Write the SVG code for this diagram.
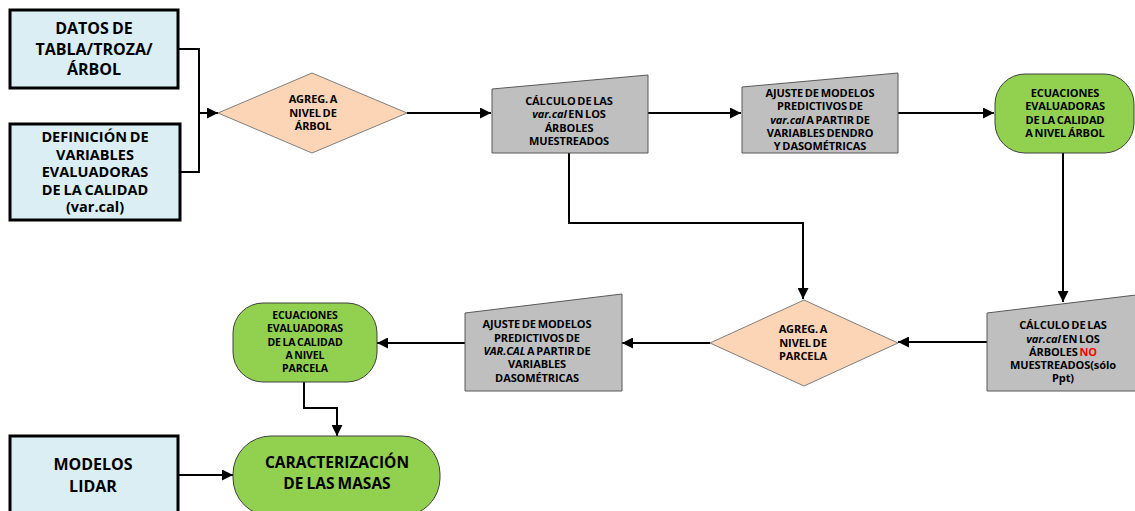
<svg xmlns="http://www.w3.org/2000/svg" width="1135" height="511" viewBox="0 0 1135 511">
<defs>
<marker id="ah" viewBox="0 0 10 10" refX="10" refY="5" markerWidth="11" markerHeight="11" markerUnits="userSpaceOnUse" orient="auto">
<path d="M0,0 L10,5 L0,10 z" fill="#000"/>
</marker>
<style>
.box{fill:#DBEEF4;stroke:#000;stroke-width:3}
.dia{fill:#FBD5B5;stroke:#7f7f7f;stroke-width:1}
.trap{fill:#BFBFBF;stroke:#595959;stroke-width:1}
.term{fill:#92D050;stroke:#404040;stroke-width:1}
.ln{fill:none;stroke:#000;stroke-width:2}
text{font-family:"Open Sans","Liberation Sans",sans-serif;font-weight:700;fill:#000;text-anchor:middle}
.big{font-size:16px;word-spacing:-1px}
.mid{font-size:14.5px;word-spacing:-1px}
.sm{font-size:11px;letter-spacing:-0.1px;word-spacing:-1px}
.xs{font-size:10.5px;letter-spacing:-0.1px;word-spacing:-1px}
.it{font-style:italic}
</style>
</defs>
<rect width="1135" height="511" fill="#fff"/>

<g id="connectors">
<polyline class="ln" points="178,49 199,49 199,113"/>
<polyline class="ln" points="180,172 199,172 199,113"/>
<line class="ln" x1="199" y1="113" x2="218" y2="113" marker-end="url(#ah)"/>
<line class="ln" x1="407" y1="113" x2="491" y2="113" marker-end="url(#ah)"/>
<line class="ln" x1="648" y1="113" x2="741" y2="113" marker-end="url(#ah)"/>
<line class="ln" x1="898" y1="113" x2="994" y2="113" marker-end="url(#ah)"/>
<line class="ln" x1="1063" y1="153" x2="1063" y2="302" marker-end="url(#ah)"/>
<polyline class="ln" points="569,153 569,223 803,223 803,299" marker-end="url(#ah)"/>
<line class="ln" x1="987" y1="342" x2="898" y2="342" marker-end="url(#ah)"/>
<line class="ln" x1="710" y1="343" x2="622" y2="343" marker-end="url(#ah)"/>
<line class="ln" x1="465" y1="343" x2="377" y2="343" marker-end="url(#ah)"/>
<polyline class="ln" points="304,382 304,408 337,408 337,436" marker-end="url(#ah)"/>
<line class="ln" x1="178" y1="475" x2="233" y2="475" marker-end="url(#ah)"/>
</g>

<g id="datos">
<rect class="box" x="10" y="10" width="168" height="78"/>
<text class="big" x="94" y="34">DATOS DE</text>
<text class="big" x="94" y="55">TABLA/TROZA/</text>
<text class="big" x="94" y="75">ÁRBOL</text>
</g>

<g id="definicion">
<rect class="box" x="10" y="124" width="170" height="96"/>
<text class="mid" x="95" y="142">DEFINICIÓN DE</text>
<text class="mid" x="95" y="159.5">VARIABLES</text>
<text class="mid" x="95" y="177">EVALUADORAS</text>
<text class="mid" x="95" y="194.5">DE LA CALIDAD</text>
<text class="mid" x="95" y="212">(var.cal)</text>
</g>

<g id="agreg-arbol">
<polygon class="dia" points="218,113 312,73 407,113 312,153"/>
<text class="sm" x="313" y="103">AGREG. A</text>
<text class="sm" x="313" y="117">NIVEL DE</text>
<text class="sm" x="313" y="130">ÁRBOL</text>
</g>

<g id="calculo-muestreados">
<polygon class="trap" points="492,89 648,75 648,153 492,153"/>
<text class="sm" x="569" y="105">CÁLCULO DE LAS</text>
<text class="sm" x="569" y="118"><tspan class="it">var.cal</tspan> EN LOS</text>
<text class="sm" x="569" y="132">ÁRBOLES</text>
<text class="sm" x="569" y="145">MUESTREADOS</text>
</g>

<g id="ajuste-arbol">
<polygon class="trap" points="742,87 898,73 898,153 742,153"/>
<text class="sm" x="820" y="97">AJUSTE DE MODELOS</text>
<text class="sm" x="820" y="110">PREDICTIVOS DE</text>
<text class="sm" x="820" y="124"><tspan class="it">var.cal</tspan> A PARTIR DE</text>
<text class="sm" x="820" y="137">VARIABLES DENDRO</text>
<text class="sm" x="820" y="150">Y DASOMÉTRICAS</text>
</g>

<g id="ecuaciones-arbol">
<rect class="term" x="995" y="74" width="139" height="79" rx="30" ry="30"/>
<text class="sm" x="1065" y="97">ECUACIONES</text>
<text class="sm" x="1065" y="110">EVALUADORAS</text>
<text class="sm" x="1065" y="124">DE LA CALIDAD</text>
<text class="sm" x="1065" y="137">A NIVEL ÁRBOL</text>
</g>

<g id="calculo-no-muestreados">
<polygon class="trap" points="987,313 1136,295 1136,391 987,391"/>
<text class="sm" x="1063" y="329">CÁLCULO DE LAS</text>
<text class="sm" x="1063" y="343"><tspan class="it">var.cal</tspan> EN LOS</text>
<text class="sm" x="1063" y="356">ÁRBOLES <tspan fill="#FF0000">NO</tspan></text>
<text class="sm" x="1063" y="369">MUESTREADOS(sólo</text>
<text class="sm" x="1063" y="382">Ppt)</text>
</g>

<g id="agreg-parcela">
<polygon class="dia" points="710,343 804,300 898,343 804,386"/>
<text class="sm" x="803" y="333">AGREG. A</text>
<text class="sm" x="803" y="347">NIVEL DE</text>
<text class="sm" x="803" y="360">PARCELA</text>
</g>

<g id="ajuste-parcela">
<polygon class="trap" points="465,313 622,294 622,391 465,391"/>
<text class="sm" x="537" y="328">AJUSTE DE MODELOS</text>
<text class="sm" x="537" y="342">PREDICTIVOS DE</text>
<text class="sm" x="537" y="355"><tspan class="it">VAR.CAL</tspan> A PARTIR DE</text>
<text class="sm" x="537" y="368">VARIABLES</text>
<text class="sm" x="537" y="382">DASOMÉTRICAS</text>
</g>

<g id="ecuaciones-parcela">
<rect class="term" x="233" y="303" width="144" height="79" rx="30" ry="30"/>
<text class="xs" x="305" y="319">ECUACIONES</text>
<text class="xs" x="305" y="332">EVALUADORAS</text>
<text class="xs" x="305" y="346">DE LA CALIDAD</text>
<text class="xs" x="305" y="359">A NIVEL</text>
<text class="xs" x="305" y="372">PARCELA</text>
</g>

<g id="lidar">
<rect class="box" x="10" y="436" width="168" height="80"/>
<text class="big" x="93" y="470">MODELOS</text>
<text class="big" x="93" y="492">LIDAR</text>
</g>

<g id="caracterizacion">
<rect class="term" x="233" y="436" width="207" height="80" rx="38" ry="38"/>
<text class="big" x="337" y="468" style="font-size:15.5px">CARACTERIZACIÓN</text>
<text class="big" x="337" y="489" style="font-size:15.5px">DE LAS MASAS</text>
</g>
</svg>
